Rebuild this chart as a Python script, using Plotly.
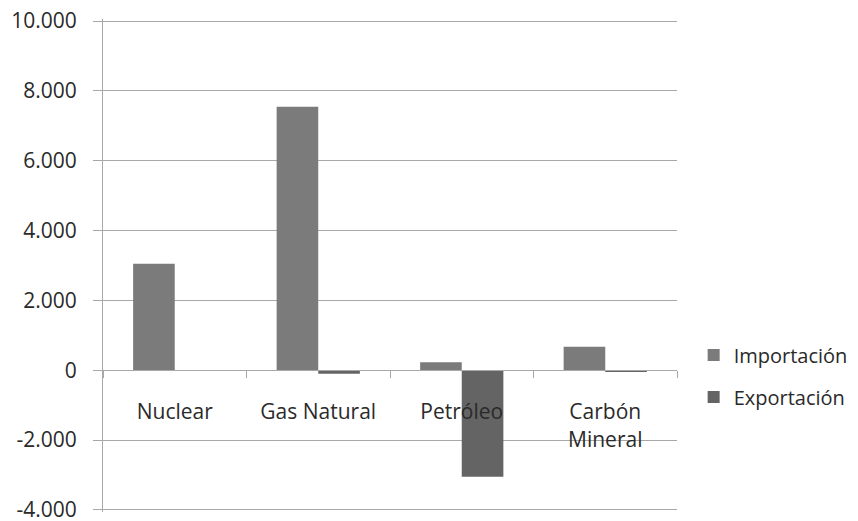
import plotly.graph_objects as go

categories = ["Nuclear", "Gas Natural", "Petróleo", "Carbón<br>Mineral"]
importacion = [3050, 7550, 230, 670]
exportacion = [0, -100, -3050, -50]
y_tickvals = [-4000, -2000, 0, 2000, 4000, 6000, 8000, 10000]
y_ticktext = ["-4.000", "-2.000", "0", "2.000", "4.000", "6.000", "8.000", "10.000"]

FONT = "Open Sans"
TXT = "#2a2a2a"
GRID = "#a8a8a8"
FS = 21

Y0, Y1 = -4060, 10060

fig = go.Figure()
fig.add_trace(go.Bar(name="Importación", x=categories, y=importacion,
                     marker=dict(color="#7b7b7b", line=dict(width=0)),
                     legendgroup="imp"))
fig.add_trace(go.Bar(name="Exportación", x=categories, y=exportacion,
                     marker=dict(color="#646464", line=dict(width=0)),
                     legendgroup="exp"))

fig.update_layout(
    width=858, height=521,
    margin=dict(l=103, r=181, t=19, b=9, autoexpand=False),
    plot_bgcolor="white", paper_bgcolor="white",
    barmode="group", bargap=0.42, bargroupgap=0,
    font=dict(family=FONT, size=FS, color=TXT),
    showlegend=True,
    legend=dict(x=1.029, xanchor="left", y=0.276, yanchor="middle",
                traceorder="grouped", tracegroupgap=13,
                font=dict(family=FONT, size=20, color=TXT),
                itemwidth=30),
    xaxis=dict(
        anchor="free", position=(0 - Y0) / (Y1 - Y0), automargin=False,
        showline=True, linecolor=GRID, linewidth=1,
        ticks="outside", tickson="boundaries", ticklen=7, tickcolor=GRID,
        showgrid=False, ticklabelstandoff=23,
        tickfont=dict(family=FONT, size=FS, color=TXT),
    ),
    yaxis=dict(
        range=[Y0, Y1], tickvals=y_tickvals, ticktext=y_ticktext,
        automargin=False, ticklabeloverflow="allow",
        showgrid=True, gridcolor=GRID, gridwidth=1,
        zeroline=False,
        showline=True, linecolor=GRID, linewidth=1,
        ticks="outside", ticklen=9, tickcolor=GRID,
        ticklabelstandoff=12,
        tickfont=dict(family=FONT, size=FS, color=TXT),
    ),
)

fig.write_html("out.html",
               config={"displayModeBar": False},
               post_script="document.body.style.margin='0';document.body.style.overflow='hidden';")
